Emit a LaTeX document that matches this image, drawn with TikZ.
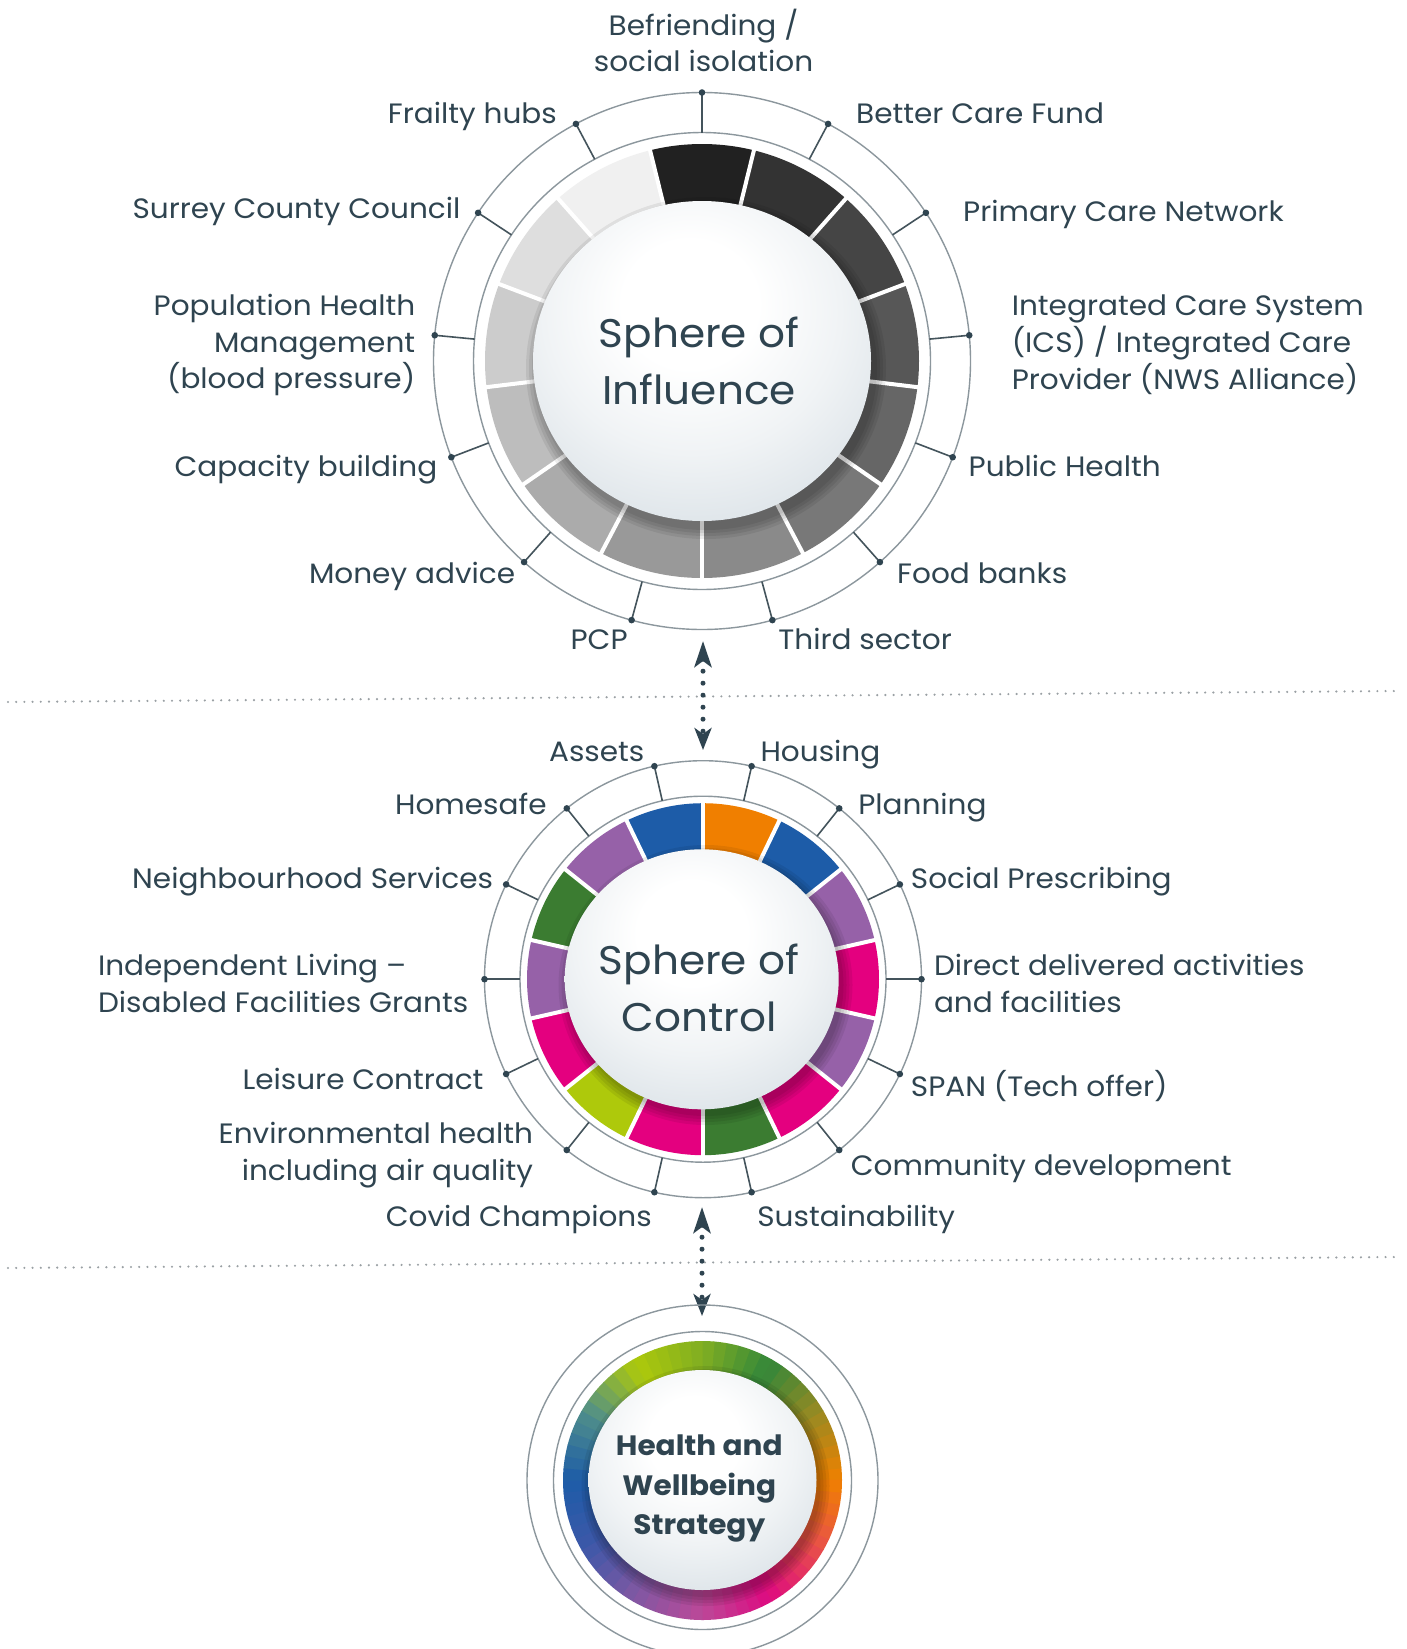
\documentclass[tikz,border=0pt]{standalone}
\usepackage{fontspec}
\setmainfont{Poppins}[FakeStretch=1.055]
\usetikzlibrary{arrows.meta}
\definecolor{txt}{HTML}{2F4450}
\definecolor{ringline}{HTML}{8C979D}
\definecolor{tickc}{HTML}{44545C}
\definecolor{sepc}{HTML}{9AA0A4}
\definecolor{cblue}{HTML}{1D5CA8}
\definecolor{corange}{HTML}{F07F00}
\definecolor{cpurple}{HTML}{9661A8}
\definecolor{cmagenta}{HTML}{E4007F}
\definecolor{cgreen}{HTML}{3B7C31}
\definecolor{cyg}{HTML}{AEC90B}
\definecolor{sphA}{HTML}{F0F3F5}
\definecolor{sphB}{HTML}{DCE3E8}
\definecolor{sphC}{HTML}{C3CFD6}
\definecolor{sphD}{HTML}{A9B9C3}
\definecolor{sphE}{HTML}{A0B1BC}
% bottom ring stops
\definecolor{w0}{HTML}{F08000}
\definecolor{w1}{HTML}{9A8A22}
\definecolor{w2}{HTML}{33873A}
\definecolor{w3}{HTML}{80AE22}
\definecolor{w4}{HTML}{AEC90B}
\definecolor{w5}{HTML}{4F8E8A}
\definecolor{w6}{HTML}{1D5CA8}
\definecolor{w7}{HTML}{3D58A8}
\definecolor{w8}{HTML}{8058A3}
\definecolor{w9}{HTML}{BC4898}
\definecolor{w10}{HTML}{DE0A80}
\definecolor{w11}{HTML}{E8504A}
\pgfdeclareradialshading{sphereshade}{\pgfpoint{-2bp}{10bp}}{color(0bp)=(white); color(10bp)=(white); color(22bp)=(sphA); color(34bp)=(sphB); color(44bp)=(sphC); color(52bp)=(sphD); color(60bp)=(sphE); color(90bp)=(sphE)}
\tikzset{
  lab/.style={font=\fontsize{28}{36.8}\selectfont, text=txt, inner sep=0pt},
  labe/.style={lab, anchor=east, text height=20pt, text depth=6pt},
  labw/.style={lab, anchor=west, text height=20pt, text depth=6pt},
  labme/.style={lab, anchor=east, align=right},
  labmw/.style={lab, anchor=west, align=left},
  ring/.style={draw=ringline, line width=1.4pt},
  tickline/.style={draw=tickc, line width=1.6pt},
  gapline/.style={draw=white, line width=4pt},
  sepline/.style={draw=sepc, line width=2.4pt, line cap=round, dash pattern=on 0pt off 8.2pt},
  arrowdots/.style={draw=txt, line width=5pt, line cap=round, dash pattern=on 0pt off 12pt},
  bigtitle/.style={font=\fontsize{40}{56.8}\selectfont, text=txt, align=center, inner sep=0pt},
  shadowfill/.style={fill=black, opacity=0.07},
}
\begin{document}
\begin{tikzpicture}[x=1pt,y=-1pt]
\useasboundingbox (0,0) rectangle (1407,1649);
\clip (0,0) rectangle (1407,1649);
\fill[white] (0,0) rectangle (1407,1649);

% ---------------- separators
\coordinate (s1a) at (8,702); \coordinate (s1b) at (1397,691);
\coordinate (s2a) at (8,1268); \coordinate (s2b) at (1397,1257);
\draw[sepline] (s1a) -- (s1b);
\draw[sepline] (s2a) -- (s2b);

% ---------------- Sphere of Influence
\begin{scope}[shift={(702,361)}, yscale=-1]
  \foreach \k in {0,...,12}{
    \pgfmathsetmacro\aa{103.846-\k*27.6923}
    \pgfmathsetmacro\ab{\aa-27.6923}
    \pgfmathtruncatemacro\bk{87-\k*6.6667}
    \fill[black!\bk] (\aa:140) arc[start angle=\aa, end angle=\ab, radius=140] -- (\ab:217) arc[start angle=\ab, end angle=\aa, radius=217] -- cycle;
  }
  \foreach \k in {0,...,12}{
    \pgfmathsetmacro\aa{103.846-\k*27.6923}
    \draw[gapline] (\aa:130) -- (\aa:222);
  }
  \draw[ring] (0,0) circle[radius=268.5];
  \draw[ring] (0,0) circle[radius=228.5];
  \foreach \a in {90,62,33.5,5.5,-21,-48.5,-74.8,254.8,228.5,201,174.5,146.5,118}{
    \draw[tickline] (\a:228.5) -- (\a:268.5);
    \fill[txt] (\a:268.5) circle[radius=3.3];
  }
\end{scope}
\foreach \d in {11,8,5,2}{
  \fill[shadowfill] (706,368) ellipse[x radius={169+\d}, y radius={160+\d}];
}
\shade[shading=sphereshade] (702,361) ellipse[x radius=169, y radius=160];
\node[bigtitle] (soi) at (699,361) {Sphere of\\Influence};

% labels top
\node[lab, align=center] (befr) at (703.5,40.5) {Befriending /\\social isolation};
\node[labe] (frail) at (557,116.8) {Frailty hubs};
\node[labw] (bcf) at (856,116.8) {Better Care Fund};
\node[labe] (scc) at (460.6,211.2) {Surrey County Council};
\node[labw] (pcn) at (963,214.6) {Primary Care Network};
\node[labme] (phm) at (415.4,345) {Population Health\\Management\\(blood pressure)};
\node[labmw] (ics) at (1011.6,345) {Integrated Care System\\(ICS) / Integrated Care\\Provider (NWS Alliance)};
\node[labe] (cap) at (437.5,469.1) {Capacity building};
\node[labw] (pubh) at (968.5,469.1) {Public Health};
\node[labe] (money) at (515.3,576.2) {Money advice};
\node[labw] (food) at (897,576.2) {Food banks};
\node[labe] (pcp) at (627.8,642.6) {PCP};
\node[labw] (third) at (778.2,642.6) {Third sector};

% arrows 1
\coordinate (u1) at (703,641); \coordinate (u2) at (703,750);
\draw[arrowdots, {Stealth[length=26pt,width=17pt,inset=6pt]}-{Stealth[length=22pt,width=17pt,inset=6pt]}] (u1) -- (u2);

% ---------------- Sphere of Control
\begin{scope}[shift={(703,979.2)}, yscale=-1]
  \foreach \k/\c in {0/corange,1/cblue,2/cpurple,3/cmagenta,4/cpurple,5/cmagenta,6/cgreen,7/cmagenta,8/cyg,9/cmagenta,10/cpurple,11/cgreen,12/cpurple,13/cblue}{
    \pgfmathsetmacro\aa{90-\k*25.7143}
    \pgfmathsetmacro\ab{\aa-25.7143}
    \fill[\c] (\aa:100) arc[start angle=\aa, end angle=\ab, radius=100] -- (\ab:176) arc[start angle=\ab, end angle=\aa, radius=176] -- cycle;
  }
  \foreach \k in {0,...,13}{
    \pgfmathsetmacro\aa{90-\k*25.7143}
    \draw[gapline] (\aa:90) -- (\aa:180);
  }
  \draw[ring] (0,0) circle[radius=218.5];
  \draw[ring] (0,0) circle[radius=183];
  \foreach \k in {0,...,13}{
    \pgfmathsetmacro\a{77.1429-\k*25.7143}
    \draw[tickline] (\a:183) -- (\a:218.5);
    \fill[txt] (\a:218.5) circle[radius=3.3];
  }
\end{scope}
\foreach \d in {10,7,4,1}{
  \fill[shadowfill] (705.5,985) ellipse[x radius={137+\d}, y radius={130+\d}];
}
\shade[shading=sphereshade] (701.7,979.3) ellipse[x radius=137, y radius=130];
\node[bigtitle] (soc) at (699,988) {Sphere of\\Control};

% labels lower
\node[labe] (assets) at (644.6,754) {Assets};
\node[labw] (housing) at (760.3,754) {Housing};
\node[labe] (homesafe) at (546.8,807.7) {Homesafe};
\node[labw] (planning) at (858.1,807.7) {Planning};
\node[labe] (neigh) at (493.2,881.2) {Neighbourhood Services};
\node[labw] (social) at (910.7,881.2) {Social Prescribing};
\node[labmw] (indep) at (97.8,983.8) {Independent Living --\\Disabled Facilities Grants};
\node[labmw] (direct) at (933.8,983.8) {Direct delivered activities\\and facilities};
\node[labe] (leisure) at (483.7,1082.2) {Leisure Contract};
\node[labw] (span) at (910.7,1089.5) {SPAN (Tech offer)};
\node[labme] (env) at (533.2,1155.5) {Environmental health\\including air quality};
\node[labw] (comm) at (850.7,1168.4) {Community development};
\node[labe] (covid) at (652,1219.9) {Covid Champions};
\node[labw] (sust) at (757.2,1219.9) {Sustainability};

% arrows 2
\coordinate (v1) at (702,1207); \coordinate (v2) at (702,1316);
\draw[arrowdots, {Stealth[length=26pt,width=17pt,inset=6pt]}-{Stealth[length=22pt,width=17pt,inset=6pt]}] (v1) -- (v2);

% ---------------- Health and Wellbeing Strategy
\begin{scope}[shift={(702.5,1480.5)}, yscale=-1]
  \foreach \a/\ca/\cb in {0/w0/w1,30/w1/w2,60/w2/w3,90/w3/w4,120/w4/w5,150/w5/w6,180/w6/w7,210/w7/w8,240/w8/w9,270/w9/w10,300/w10/w11,330/w11/w0}{
    \foreach \j in {0,...,5}{
      \pgfmathtruncatemacro\p{100-(\j+0.5)*100/6}
      \pgfmathsetmacro\s{\a+\j*5}
      \pgfmathsetmacro\e{\s+5.4}
      \fill[\ca!\p!\cb] (0,0) -- (\s:139.5) arc[start angle=\s, end angle=\e, radius=139.5] -- cycle;
    }
  }
  \draw[ring] (0,0) circle[radius=175.5];
  \draw[ring] (0,0) circle[radius=149];
\end{scope}
\foreach \d in {10,7,4,1}{
  \fill[shadowfill] (705.5,1486) ellipse[x radius={114+\d}, y radius={110+\d}];
}
\shade[shading=sphereshade] (702.5,1480) ellipse[x radius=114, y radius=110];
\node[bigtitle, font=\bfseries\fontsize{28}{39.5}\selectfont] (hws) at (699.3,1488.5) {Health and\\Wellbeing\\Strategy};
\end{tikzpicture}
\end{document}
